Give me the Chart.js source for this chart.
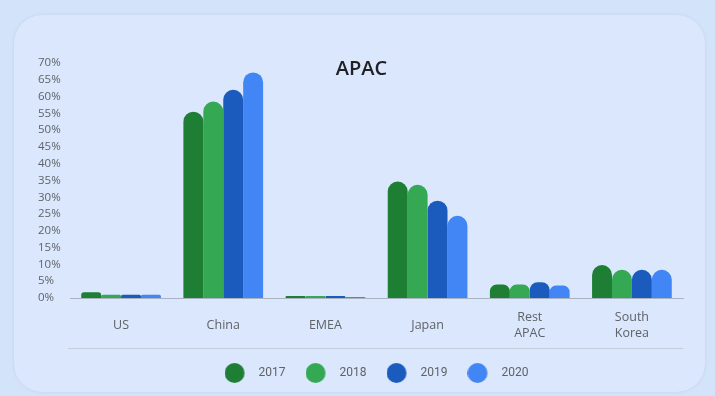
<!DOCTYPE html>
<html>
<head>
<meta charset="utf-8">
<script src="https://cdn.jsdelivr.net/npm/chart.js@4/dist/chart.umd.min.js"></script>
<style>
  html, body { margin: 0; padding: 0; background: #d3e3fa; width: 715px; height: 396px; overflow: hidden; }
  #card { position: absolute; left: 14px; top: 15px; width: 691px; height: 377px; border-radius: 28px; background: #dae7fc; box-shadow: 0 0 3px rgba(150,175,215,0.35); }
  #c { position: absolute; left: 0; top: 0; }
</style>
</head>
<body>
<div id="card"></div>
<canvas id="c" width="715" height="396"></canvas>
<script>
const categories = ['US', 'China', 'EMEA', 'Japan', ['Rest', 'APAC'], ['South', 'Korea']];
const seriesNames = ['2017', '2018', '2019', '2020'];
const values2017 = [1.7, 55.5, 0.6, 34.7, 4.0, 9.8];
const values2018 = [1.0, 58.5, 0.6, 33.7, 4.0, 8.4];
const values2019 = [1.0, 62.0, 0.6, 29.0, 4.7, 8.4];
const values2020 = [1.0, 67.2, 0.3, 24.5, 3.7, 8.4];
const yTicks = { min: 0, max: 70, step: 5 };
const titleText = 'APAC';

const colors = ['#1e7e34', '#34a853', '#1a5bbd', '#4285f4'];
const allValues = [values2017, values2018, values2019, values2020];
const FONT = '"Open Sans", Roboto, sans-serif';

function makeDot(color) {
  const cv = document.createElement('canvas');
  cv.width = 28; cv.height = 20;
  const g = cv.getContext('2d');
  g.fillStyle = color;
  g.beginPath();
  g.arc(10, 10, 10, 0, Math.PI * 2);
  g.fill();
  return cv;
}
const dots = colors.map(makeDot);

const datasets = seriesNames.map((name, i) => ({
  label: name,
  data: allValues[i],
  backgroundColor: colors[i],
  borderWidth: 0,
  borderRadius: { topLeft: 10, topRight: 10, bottomLeft: 0, bottomRight: 0 },
  borderSkipped: 'bottom',
  barPercentage: 1.0,
  categoryPercentage: 0.78
}));

const extrasPlugin = {
  id: 'extras',
  afterDraw(chart) {
    const ctx = chart.ctx;
    const ca = chart.chartArea;
    ctx.save();
    ctx.font = '600 20px ' + FONT;
    ctx.fillStyle = '#202124';
    ctx.textAlign = 'center';
    ctx.textBaseline = 'middle';
    ctx.fillText(titleText, chart.width / 2 + 4, ca.top + 6);
    const lg = chart.legend;
    ctx.strokeStyle = '#c3cddb';
    ctx.lineWidth = 1;
    ctx.beginPath();
    ctx.moveTo(ca.left - 2, lg.top + 1.5);
    ctx.lineTo(ca.right, lg.top + 1.5);
    ctx.stroke();
    ctx.restore();
  }
};

new Chart(document.getElementById('c'), {
  type: 'bar',
  data: { labels: categories, datasets },
  plugins: [extrasPlugin],
  options: {
    responsive: false,
    animation: false,
    devicePixelRatio: 1,
    layout: { padding: { left: 38, right: 32, top: 63, bottom: 7 } },
    plugins: {
      title: { display: false },
      tooltip: { enabled: false },
      legend: {
        position: 'bottom',
        fullSize: false,
        labels: {
          usePointStyle: true,
          pointStyleWidth: 28,
          padding: 20,
          color: '#5f6368',
          font: { family: 'Roboto, "Open Sans", sans-serif', size: 12 },
          generateLabels(chart) {
            const items = Chart.defaults.plugins.legend.labels.generateLabels(chart);
            items.forEach((it, i) => { it.pointStyle = dots[i]; });
            return items;
          }
        }
      }
    },
    scales: {
      x: {
        grid: { display: false, drawTicks: false },
        border: { display: true, color: '#a9b3c1', width: 1 },
        ticks: {
          color: '#5f6368',
          font: { family: FONT, size: 12.5, lineHeight: 1.35 },
          padding: 19,
          crossAlign: 'center',
          maxRotation: 0,
          autoSkip: false
        },
        afterFit(scale) { scale.height = 49; }
      },
      y: {
        min: yTicks.min,
        max: yTicks.max,
        grid: { display: false, drawTicks: false },
        border: { display: false },
        ticks: {
          stepSize: yTicks.step,
          autoSkip: false,
          color: '#5f6368',
          crossAlign: 'far',
          font: { family: FONT, size: 11.5, lineHeight: 1 },
          callback: v => v + '%'
        },
        afterFit(scale) { scale.width = 32; }
      }
    }
  }
});
</script>
</body>
</html>
